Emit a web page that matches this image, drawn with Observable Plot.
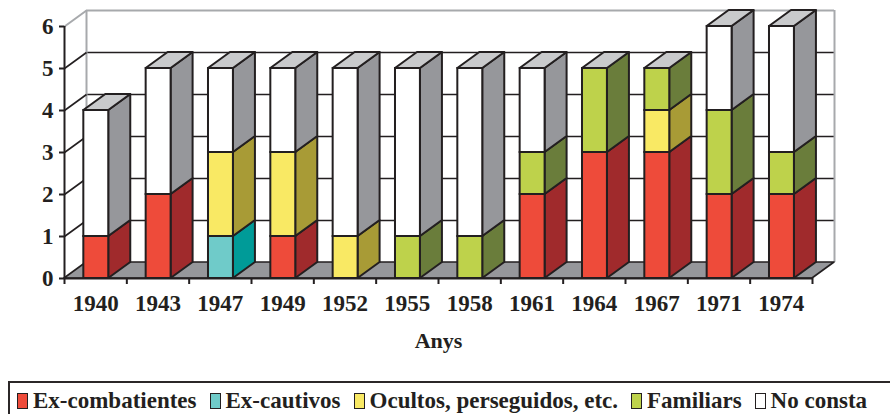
<!DOCTYPE html>
<html>
<head>
<meta charset="utf-8">
<script src="https://cdn.jsdelivr.net/npm/d3@7"></script>
<script src="https://cdn.jsdelivr.net/npm/@observablehq/plot@0.6"></script>
<style>
  html, body { margin: 0; padding: 0; background: #fff; }
  #chart svg { display: block; }
  .legend {
    margin-left: 8px; width: 900px; height: 60px; box-sizing: border-box;
    border: 2px solid #2b2728; border-bottom: none;
    display: flex; padding-left: 7px; padding-top: 5px;
    font-family: "Liberation Serif", "Times New Roman", serif; font-weight: bold;
    font-size: 23px; color: #231F20; align-items: flex-start;
  }
  .legend .item { display: flex; align-items: center; margin-right: 13px; white-space: nowrap; }
  .legend .sw { width: 9px; height: 14px; border: 1.5px solid #231F20; margin-right: 5px; }
</style>
</head>
<body>
<div id="chart"></div>
<script>
// ---- data ----
const years = ["1940","1943","1947","1949","1952","1955","1958","1961","1964","1967","1971","1974"];
const seriesNames = ["Ex-combatientes","Ex-cautivos","Ocultos, perseguidos, etc.","Familiars","No consta"];
const exCombatientes = [1,2,0,1,0,0,0,2,3,3,2,2];
const exCautivos     = [0,0,1,0,0,0,0,0,0,0,0,0];
const ocultos        = [0,0,2,2,1,0,0,0,0,1,0,0];
const familiars      = [0,0,0,0,0,1,1,1,2,1,2,1];
const noConsta       = [3,3,2,2,4,4,4,2,0,0,2,3];
const yTicks = [0,1,2,3,4,5,6];

// ---- styles ----
const frontColors = ["#EE4B3A","#6FCBC9","#F9E964","#BED24B","#FFFFFF"];
const sideColors  = ["#A02A2C","#009B98","#A89B36","#6A7D3B","#96979B"];
const topColor = "#C9CACC";
const ink = "#231F20";
const frameGray = "#A7A9AC";
const D = 0.353;   // depth in x units
const E = 0.381;   // depth in y units
const B0 = 0.31, B1 = 0.71; // bar front within band

const seriesValues = [exCombatientes, exCautivos, ocultos, familiars, noConsta];

// build stacked segments
const segs = [];
years.forEach((yr, i) => {
  let base = 0;
  seriesValues.forEach((vals, s) => {
    const v = vals[i];
    if (v > 0) {
      segs.push({i, s, y1: base, y2: base + v, id: i * 10 + s});
      base += v;
    }
  });
});
const totals = years.map((_, i) => seriesValues.reduce((a, vals) => a + vals[i], 0));

const sidePts = segs.flatMap(d => [
  {x: d.i + B1, lo: d.y1, hi: d.y2, z: d.id, fill: sideColors[d.s]},
  {x: d.i + B1 + D, lo: d.y1 + E, hi: d.y2 + E, z: d.id, fill: sideColors[d.s]}
]);
const topPts = totals.flatMap((t, i) => [
  {y: t, a: i + B0, b: i + B1, z: i},
  {y: t + E, a: i + B0 + D, b: i + B1 + D, z: i}
]);
const n = years.length;
const floorPts = [{y: 0, a: 0, b: n}, {y: E, a: D, b: n + D}];
const gridRows = yTicks.map(v => ({v, front: 0, back: D, end: n + D, vb: v + E}));

const chart = Plot.plot({
  width: 890,
  height: 381,
  marginLeft: 64,
  marginRight: 78,
  marginTop: 26,
  marginBottom: 103,
  x: {domain: [0, n], axis: null},
  y: {domain: [0, 6], axis: null},
  color: {type: "identity"},
  style: {fontFamily: "'Liberation Serif', 'Times New Roman', serif", fontWeight: "bold", color: ink, background: "#fff", overflow: "visible"},
  marks: [
    // back wall gridlines
    Plot.ruleY(gridRows.slice(1, 6), {y: "vb", x1: "back", x2: "end", stroke: ink, strokeWidth: 1.6}),
    Plot.ruleY(gridRows.slice(6), {y: "vb", x1: "back", x2: "end", stroke: frameGray, strokeWidth: 2}),
    Plot.ruleX([{x: D}, {x: n + D}], {x: "x", y1: () => E, y2: () => 6 + E, stroke: frameGray, strokeWidth: 2}),
    // left wall diagonals
    Plot.link(gridRows.slice(1, 6), {x1: "front", y1: "v", x2: "back", y2: "vb", stroke: ink, strokeWidth: 1.6}),
    Plot.link(gridRows.slice(6), {x1: "front", y1: "v", x2: "back", y2: "vb", stroke: frameGray, strokeWidth: 2}),
    // floor
    Plot.areaX(floorPts, {y: "y", x1: "a", x2: "b", fill: "#96979B", stroke: ink, strokeWidth: 1.6}),
    // bar sides
    Plot.areaY(sidePts, {x: "x", y1: "lo", y2: "hi", z: "z", fill: "fill", stroke: ink, strokeWidth: 2, strokeLinejoin: "round"}),
    // bar fronts
    Plot.rect(segs, {x1: d => d.i + B0, x2: d => d.i + B1, y1: "y1", y2: "y2", fill: d => frontColors[d.s], stroke: ink, strokeWidth: 2}),
    // bar tops
    Plot.areaX(topPts, {y: "y", x1: "a", x2: "b", z: "z", fill: topColor, stroke: ink, strokeWidth: 2, strokeLinejoin: "round"}),
    // axes
    Plot.ruleX([{x: 0}], {x: "x", y1: () => 0, y2: () => 6, stroke: ink, strokeWidth: 2}),
    Plot.ruleY([{y: 0}], {y: "y", x1: () => 0, x2: () => n, stroke: ink, strokeWidth: 2}),
    Plot.axisY({ticks: yTicks, tickSize: 5, tickPadding: 6, fontSize: 23, fontWeight: "bold", stroke: ink, strokeWidth: 2, fill: ink, tickFormat: d => String(d)}),
    Plot.axisX({ticks: d3.range(n + 1), tickSize: 6, tickFormat: () => "", stroke: ink, strokeWidth: 2}),
    Plot.axisX({ticks: d3.range(n).map(i => i + 0.5), tickSize: 0, tickPadding: 16, fontSize: 23, fontWeight: "bold", fill: ink, tickFormat: v => years[Math.floor(v)]}),
    Plot.text(["Anys"], {frameAnchor: "bottom", dy: 62, lineAnchor: "middle", fontSize: 22, fontWeight: "bold", fill: ink})
  ]
});
document.getElementById("chart").appendChild(chart);

// legend
const legend = document.createElement("div");
legend.className = "legend";
seriesNames.forEach((name, s) => {
  const item = document.createElement("div");
  item.className = "item";
  const sw = document.createElement("span");
  sw.className = "sw";
  sw.style.background = frontColors[s];
  const label = document.createElement("span");
  label.textContent = name;
  item.appendChild(sw);
  item.appendChild(label);
  legend.appendChild(item);
});
document.body.appendChild(legend);
</script>
</body>
</html>
